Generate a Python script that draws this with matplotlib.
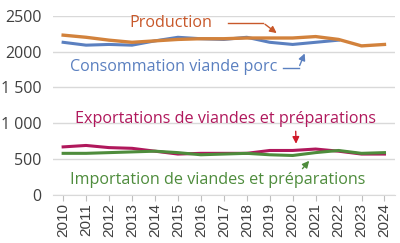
import matplotlib
matplotlib.use("Agg")
import matplotlib.pyplot as plt

years = list(range(2010, 2025))
production = [2230, 2200, 2160, 2130, 2150, 2170, 2180, 2180, 2190, 2190, 2190, 2210, 2170, 2080, 2100]
consommation = [2130, 2090, 2100, 2090, 2150, 2200, 2180, 2170, 2200, 2130, 2100, 2130, 2160]
exportations = [670, 690, 660, 650, 610, 570, 580, 580, 580, 620, 620, 640, 610, 570, 570]
importations = [580, 580, 590, 600, 610, 590, 560, 570, 580, 560, 550, 590, 620, 580, 590]
ytick_vals = [0, 500, 1000, 1500, 2000, 2500]
ytick_labels = ["0", "500", "1 000", "1 500", "2000", "2500"]

c_prod = "#D2823C"
c_prod_txt = "#C8582A"
c_cons = "#5B80C0"
c_exp = "#B0185C"
c_exp_arrow = "#D01A2A"
c_imp = "#4E8C3C"

plt.rcParams['font.family'] = ['Open Sans', 'DejaVu Sans']

fig = plt.figure(figsize=(4.0, 2.43), dpi=100)
ax = fig.add_axes([0.132, 0.198, 0.855, 0.737])

ax.plot(years[:len(consommation)], consommation, color=c_cons, lw=2.2, zorder=3)
ax.plot(years, production, color=c_prod, lw=2.4, zorder=4)
ax.plot(years, exportations, color=c_exp, lw=2.2, zorder=3)
ax.plot(years, importations, color=c_imp, lw=2.2, zorder=4)

ax.set_xlim(2009.55, 2024.45)
ax.set_ylim(0, 2500)
ax.set_yticks(ytick_vals)
ax.set_yticklabels(ytick_labels)
ax.set_xticks(years)
ax.set_xticklabels([str(y) for y in years], rotation=90, family='Liberation Sans')
ax.tick_params(axis='y', length=0, labelsize=11.5, colors='#404040', pad=8)
ax.tick_params(axis='x', length=4, color='#BFBFBF', labelsize=11, colors='#404040', pad=2)
ax.grid(axis='y', color='#D9D9D9', lw=1)
ax.set_axisbelow(True)
for s in ['top', 'right', 'left']:
    ax.spines[s].set_visible(False)
ax.spines['bottom'].set_color('#D9D9D9')

fs = 11.6
ax.text(2012.9, 2400, "Production", color=c_prod_txt, fontsize=fs, va='center', ha='left')
ax.text(2010.3, 1783, "Consommation viande porc", color=c_cons, fontsize=fs, va='center', ha='left')
ax.text(2010.5, 1053, "Exportations de viandes et préparations", color=c_exp, fontsize=fs, va='center', ha='left')
ax.text(2010.3, 210, "Importation de viandes et préparations", color=c_imp, fontsize=fs, va='center', ha='left')

# arrows
ax.plot([2017.2, 2018.7], [2405, 2405], color=c_prod_txt, lw=1)
ax.annotate("", xy=(2019.4, 2235), xytext=(2018.7, 2405),
            arrowprops=dict(arrowstyle='-|>', color=c_prod_txt, lw=1, mutation_scale=10))
ax.plot([2019.56, 2020.26], [1770, 1770], color=c_cons, lw=1)
ax.annotate("", xy=(2020.57, 2010), xytext=(2020.26, 1770),
            arrowprops=dict(arrowstyle='-|>', color=c_cons, lw=1, mutation_scale=10))
ax.annotate("", xy=(2020.15, 675), xytext=(2020.13, 927),
            arrowprops=dict(arrowstyle='-|>', color=c_exp_arrow, lw=1, mutation_scale=10))
ax.annotate("", xy=(2020.8, 505), xytext=(2020.35, 337),
            arrowprops=dict(arrowstyle='-|>', color=c_imp, lw=1, mutation_scale=10))

fig.savefig("out.png", dpi=100)
